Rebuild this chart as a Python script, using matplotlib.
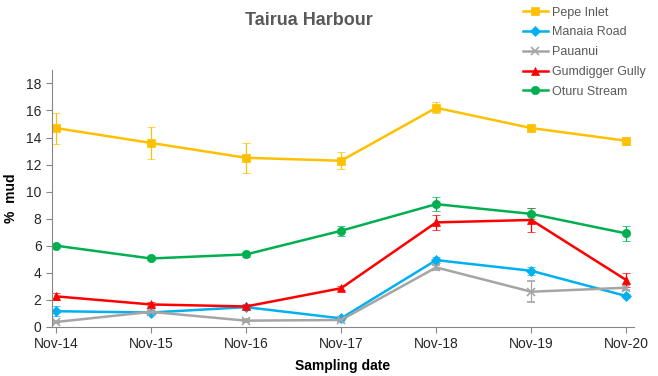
import matplotlib
matplotlib.use('Agg')
import matplotlib.pyplot as plt
from matplotlib.lines import Line2D

plt.rcParams['font.family'] = ['Liberation Sans', 'DejaVu Sans']

# data
dates = ['Nov-14', 'Nov-15', 'Nov-16', 'Nov-17', 'Nov-18', 'Nov-19', 'Nov-20']

pepe = [14.7, 13.6, 12.5, 12.28, 16.2, 14.7, 13.76]
pepe_err = [1.15, 1.2, 1.1, 0.64, 0.4, 0.2, 0.3]

manaia = [1.15, 1.05, 1.45, 0.62, 4.93, 4.14, 2.27]
manaia_err = [0.35, 0.2, 0.15, 0.12, 0.2, 0.3, 0.15]

pauanui = [0.35, 1.1, 0.45, 0.5, 4.39, 2.59, 2.89]
pauanui_err = [0.1, 0.1, 0.1, 0.1, 0.2, 0.76, 0.2]

gumdigger = [2.25, 1.65, 1.5, 2.85, 7.72, 7.9, 3.45]
gumdigger_err = [0.25, 0.15, 0.2, 0.15, 0.53, 0.9, 0.52]

oturu = [6.0, 5.05, 5.35, 7.1, 9.07, 8.35, 6.9]
oturu_err = [0.1, 0.1, 0.2, 0.35, 0.54, 0.4, 0.53]

series = [
    ('Pepe Inlet', pepe, pepe_err, '#FFC000', 's', 6),
    ('Manaia Road', manaia, manaia_err, '#00B0F0', 'D', 5),
    ('Pauanui', pauanui, pauanui_err, '#A5A5A5', 'x', 6),
    ('Gumdigger Gully', gumdigger, gumdigger_err, '#FF0000', '^', 6),
    ('Oturu Stream', oturu, oturu_err, '#00B050', 'o', 6),
]

fig = plt.figure(figsize=(6.58, 3.76), dpi=100)
ax = fig.add_axes([0.079, 0.131, 0.8845, 0.683])

x = list(range(len(dates)))
handles = []
for name, vals, errs, color, marker, ms in series:
    mew = 1.2 if marker == 'x' else 0.5
    ax.errorbar(x, vals, yerr=errs, color=color, marker=marker, markersize=ms,
                linewidth=1.8, elinewidth=0.9, capsize=3, capthick=0.9,
                markeredgewidth=mew)
    handles.append(Line2D([], [], color=color, marker=marker, markersize=ms,
                          linewidth=1.8, markeredgewidth=mew, label=name))

ax.set_xlim(-0.04, 6.08)
ax.set_ylim(0, 19)
ax.set_yticks(range(0, 19, 2))
ax.set_xticks(x)
ax.set_xticklabels(dates)

for side in ['top', 'right']:
    ax.spines[side].set_visible(False)
for side in ['left', 'bottom']:
    ax.spines[side].set_color('#868686')
    ax.spines[side].set_linewidth(0.8)
ax.tick_params(axis='both', colors='#868686', labelcolor='#262626',
               labelsize=10, length=4, width=0.8)

ax.set_xlabel('Sampling date', fontsize=10, fontweight='bold', labelpad=6)
ax.set_ylabel('%  mud', fontsize=10, fontweight='bold', labelpad=6)

fig.text(0.47, 0.945, 'Tairua Harbour', ha='center', va='center',
         fontsize=13, fontweight='bold', color='#595959')

leg = fig.legend(handles=handles, loc='upper left', bbox_to_anchor=(0.777, 1.012),
                 frameon=False, fontsize=9, handlelength=2.0, labelspacing=0.62,
                 handletextpad=0.35)
for t in leg.get_texts():
    t.set_color('#595959')

plt.savefig('out.png', dpi=100)
plt.close()
